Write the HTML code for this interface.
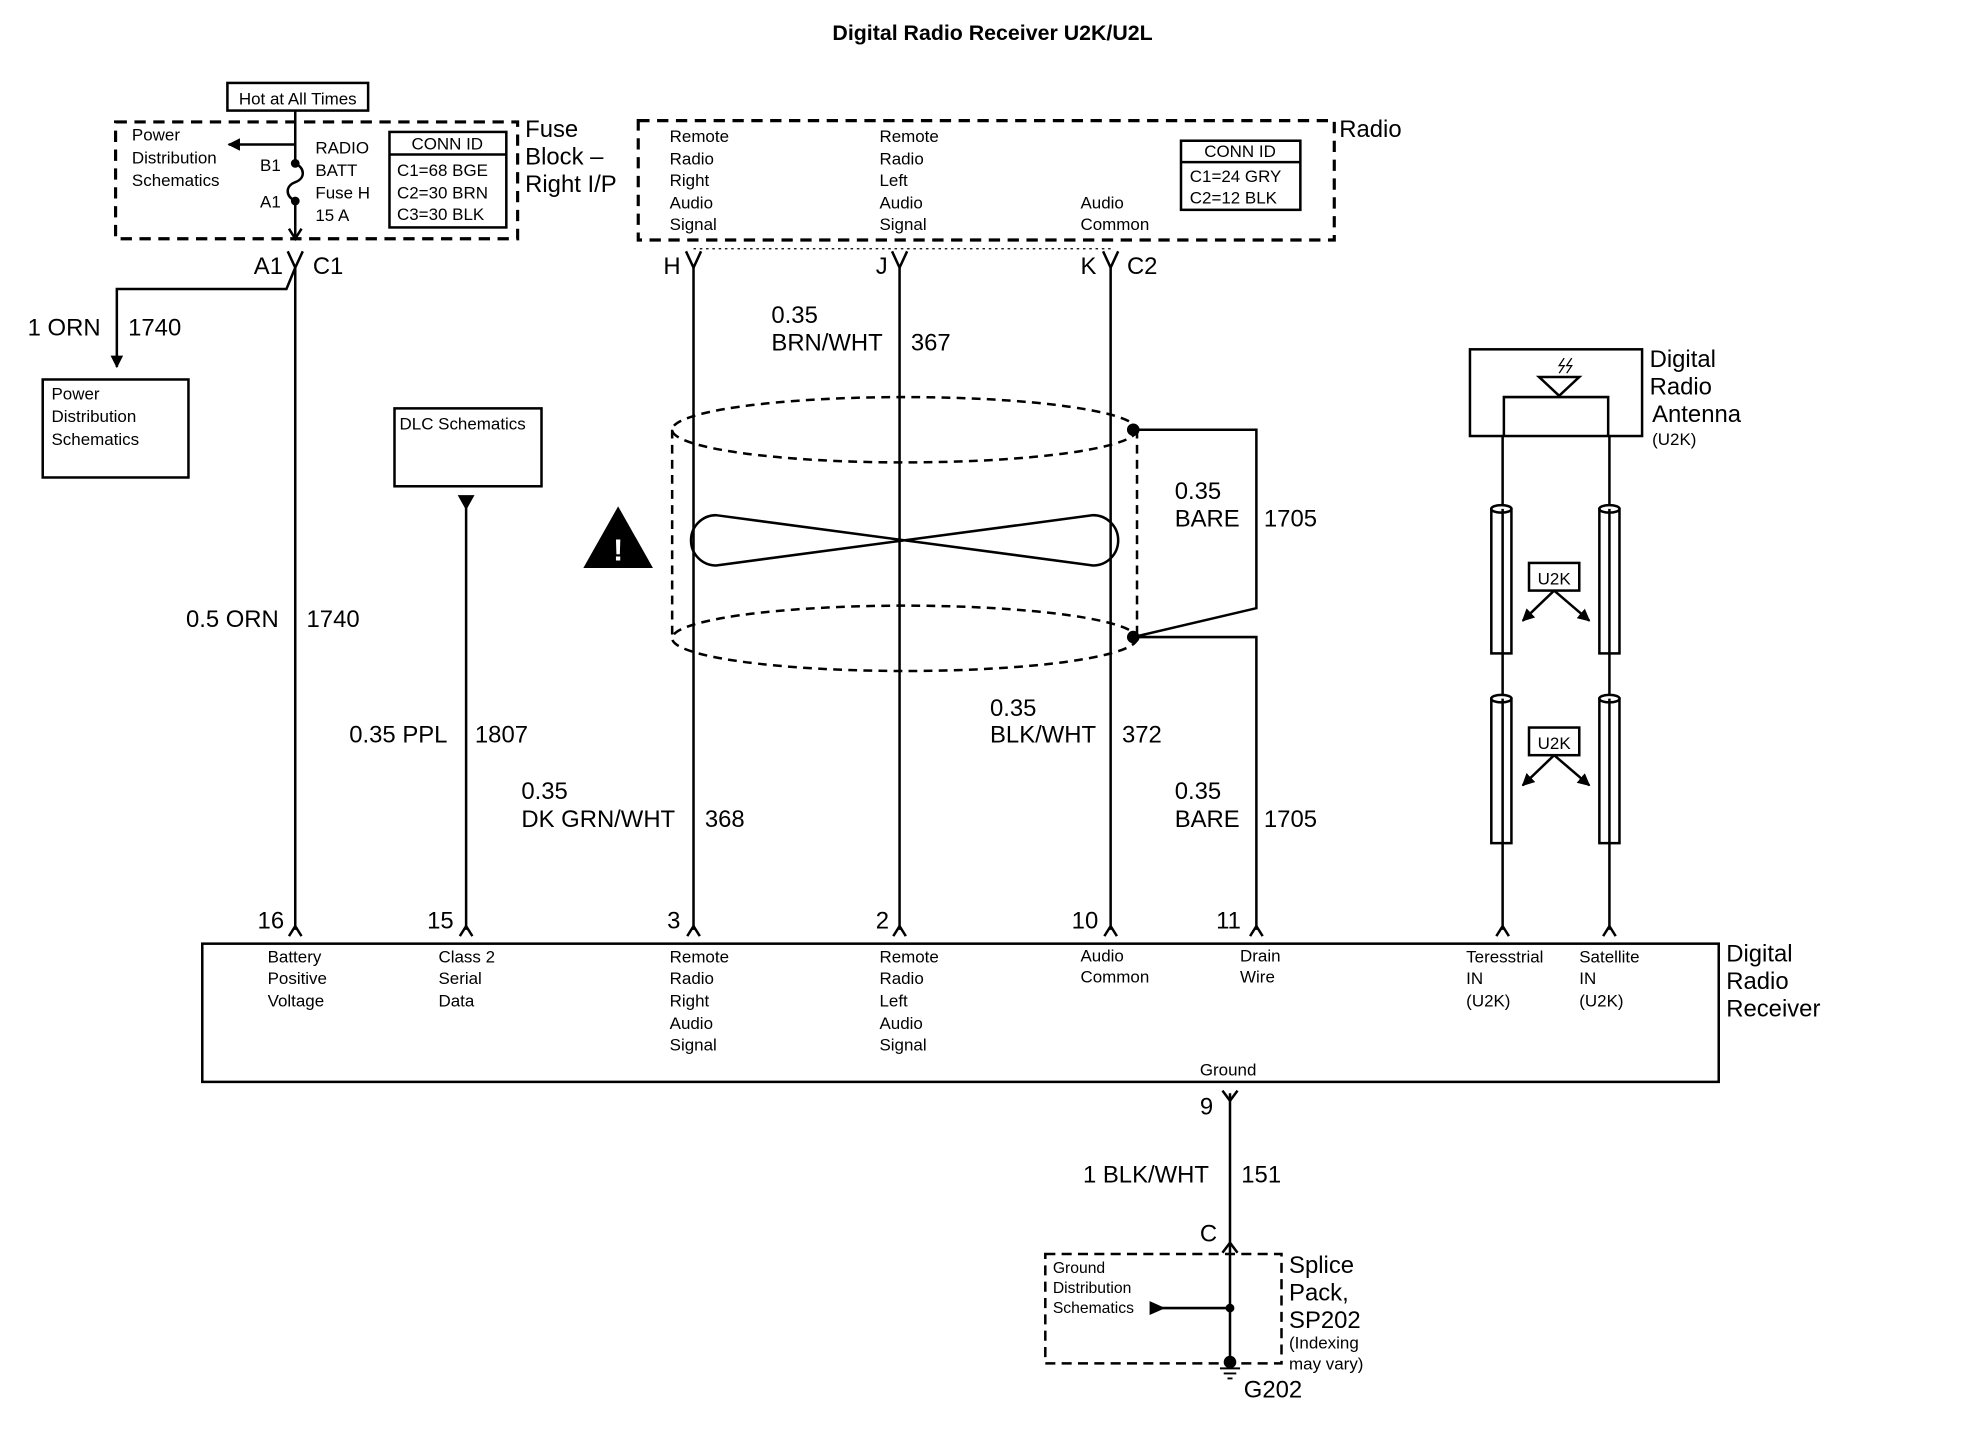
<!DOCTYPE html>
<html><head><meta charset="utf-8"><style>
html,body{margin:0;padding:0;background:#fff;}
svg{display:block;}
text{font-family:"Liberation Sans",Arial,sans-serif;fill:#000;}
.s{font-size:13.5px;}
.m{font-size:19px;}
.l{font-size:19px;}
</style></head><body>
<svg width="1970" height="1440" viewBox="0 0 1568 1146" preserveAspectRatio="none" xmlns="http://www.w3.org/2000/svg">
<defs>
<marker id="ar" markerWidth="10" markerHeight="10" refX="9" refY="5" orient="auto" markerUnits="userSpaceOnUse"><path d="M0,0 L10,5 L0,10 Z" fill="#000"/></marker>
</defs>
<g stroke="#000" fill="none" stroke-width="2">
<text x="790" y="32" text-anchor="middle" style="font-size:17px;font-weight:bold" stroke="none">Digital Radio Receiver  U2K/U2L</text>

<rect x="181" y="66" width="112" height="22"/>
<text x="237" y="83" text-anchor="middle" class="s" stroke="none">Hot at All Times</text>
<rect x="92" y="97" width="320" height="93" stroke-dasharray="9,6" stroke-width="2.5"/>
<text x="105" y="112" class="s" stroke="none">Power</text>
<text x="105" y="130" class="s" stroke="none">Distribution</text>
<text x="105" y="148" class="s" stroke="none">Schematics</text>
<line x1="235" y1="115" x2="182" y2="115" marker-end="url(#ar)"/>
<path d="M235,88 V130 M235,160 V188" />
<path d="M235,130 c8,4 8,12 0,15 c-8,3 -8,11 0,15" />
<circle cx="235" cy="130" r="2.5" fill="#000"/><circle cx="235" cy="160" r="2.5" fill="#000"/>
<path d="M230,182 L235,190 L240,182" />
<text x="207" y="136" class="s" stroke="none">B1</text>
<text x="207" y="165" class="s" stroke="none">A1</text>
<text x="251" y="122" class="s" stroke="none">RADIO</text>
<text x="251" y="140" class="s" stroke="none">BATT</text>
<text x="251" y="158" class="s" stroke="none">Fuse H</text>
<text x="251" y="176" class="s" stroke="none">15 A</text>
<rect x="310" y="105" width="93" height="76"/>
<line x1="310" y1="123" x2="403" y2="123"/>
<text x="356" y="119" text-anchor="middle" class="s" stroke="none">CONN ID</text>
<text x="316" y="140" class="s" stroke="none">C1=68 BGE</text>
<text x="316" y="158" class="s" stroke="none">C2=30 BRN</text>
<text x="316" y="175" class="s" stroke="none">C3=30 BLK</text>
<text x="418" y="109" class="l" stroke="none">Fuse</text>
<text x="418" y="131" class="l" stroke="none">Block –</text>
<text x="418" y="153" class="l" stroke="none">Right I/P</text>

<rect x="508" y="96" width="554" height="95" stroke-dasharray="9,6" stroke-width="2.5"/>
<text x="1066" y="109" class="l" stroke="none">Radio</text>
<g stroke="none">
<text x="533" y="113" class="s">Remote</text><text x="533" y="131" class="s">Radio</text><text x="533" y="148" class="s">Right</text><text x="533" y="166" class="s">Audio</text><text x="533" y="183" class="s">Signal</text>
<text x="700" y="113" class="s">Remote</text><text x="700" y="131" class="s">Radio</text><text x="700" y="148" class="s">Left</text><text x="700" y="166" class="s">Audio</text><text x="700" y="183" class="s">Signal</text>
<text x="860" y="166" class="s">Audio</text><text x="860" y="183" class="s">Common</text>
</g>
<rect x="940" y="112" width="95" height="55"/>
<line x1="940" y1="129" x2="1035" y2="129"/>
<text x="987" y="125" text-anchor="middle" class="s" stroke="none">CONN ID</text>
<text x="947" y="145" class="s" stroke="none">C1=24 GRY</text>
<text x="947" y="162" class="s" stroke="none">C2=12 BLK</text>
<path d="M552,198 H885" stroke-dasharray="2,3" stroke-width="1"/>

<g>
<path d="M229,200 L235,213 L241,200"/>
<path d="M546,200 L552,213 L558,200"/>
<path d="M710,200 L716,213 L722,200"/>
<path d="M878,200 L884,213 L890,200"/>
</g>
<text x="202" y="218" class="m" stroke="none">A1</text><text x="249" y="218" class="m" stroke="none">C1</text>
<text x="528" y="218" class="m" stroke="none">H</text>
<text x="697" y="218" class="m" stroke="none">J</text>
<text x="860" y="218" class="m" stroke="none">K</text><text x="897" y="218" class="m" stroke="none">C2</text>

<path d="M235,213 V740"/>
<path d="M235,213 L228,230 H93 V292" marker-end="url(#ar)"/>
<text x="22" y="267" class="m" stroke="none">1 ORN</text><text x="102" y="267" class="m" stroke="none">1740</text>
<rect x="34" y="302" width="116" height="78"/>
<text x="41" y="318" class="s" stroke="none">Power</text><text x="41" y="336" class="s" stroke="none">Distribution</text><text x="41" y="354" class="s" stroke="none">Schematics</text>
<text x="148" y="499" class="m" stroke="none">0.5 ORN</text><text x="244" y="499" class="m" stroke="none">1740</text>

<rect x="314" y="325" width="117" height="62"/>
<text x="318" y="342" class="s" stroke="none">DLC Schematics</text>
<path d="M366,395 L376,395 L371,404 Z" fill="#000"/>
<line x1="371" y1="400" x2="371" y2="740"/>
<text x="278" y="591" class="m" stroke="none">0.35 PPL</text><text x="378" y="591" class="m" stroke="none">1807</text>

<line x1="552" y1="213" x2="552" y2="740"/>
<line x1="716" y1="213" x2="716" y2="740"/>
<line x1="884" y1="213" x2="884" y2="740"/>
<text x="614" y="257" class="m" stroke="none">0.35</text>
<text x="614" y="279" class="m" stroke="none">BRN/WHT</text><text x="725" y="279" class="m" stroke="none">367</text>
<text x="415" y="636" class="m" stroke="none">0.35</text>
<text x="415" y="658" class="m" stroke="none">DK GRN/WHT</text><text x="561" y="658" class="m" stroke="none">368</text>
<text x="788" y="570" class="m" stroke="none">0.35</text>
<text x="788" y="591" class="m" stroke="none">BLK/WHT</text><text x="893" y="591" class="m" stroke="none">372</text>

<ellipse cx="720" cy="342" rx="185" ry="26" stroke-dasharray="7,5"/>
<ellipse cx="720" cy="508" rx="185" ry="26" stroke-dasharray="7,5"/>
<line x1="535" y1="342" x2="535" y2="508" stroke-dasharray="7,5"/>
<line x1="905" y1="342" x2="905" y2="508" stroke-dasharray="7,5"/>
<path d="M570,410 L870,450 A20,20 0 0 0 870,410 L570,450 A20,20 0 0 1 570,410 Z"/>
<path d="M466,451 L492,405 L518,451 Z" fill="#000"/>
<text x="492" y="446" text-anchor="middle" style="font-size:24px;font-weight:bold;fill:#fff" stroke="none">!</text>

<circle cx="902" cy="342" r="4" fill="#000"/>
<circle cx="902" cy="507" r="4" fill="#000"/>
<path d="M902,342 H1000 V484 L902,507 H1000 V740"/>
<text x="935" y="397" class="m" stroke="none">0.35</text>
<text x="935" y="419" class="m" stroke="none">BARE</text><text x="1006" y="419" class="m" stroke="none">1705</text>
<text x="935" y="636" class="m" stroke="none">0.35</text>
<text x="935" y="658" class="m" stroke="none">BARE</text><text x="1006" y="658" class="m" stroke="none">1705</text>

<rect x="1170" y="278" width="137" height="69"/>
<path d="M1197,347 V316 H1280 V347"/>
<path d="M1225,300 H1257 L1241,315 Z"/>
<path d="M1245,285 l-4,6 h4 l-4,6 M1251,285 l-4,6 h4 l-4,6" stroke-width="1"/>
<text x="1313" y="292" class="m" stroke="none">Digital</text>
<text x="1313" y="314" class="m" stroke="none">Radio</text>
<text x="1315" y="336" class="m" stroke="none">Antenna</text>
<text x="1315" y="354" class="s" stroke="none">(U2K)</text>
<line x1="1196" y1="347" x2="1196" y2="740"/>
<line x1="1281" y1="347" x2="1281" y2="740"/>
<g fill="#fff">
<rect x="1187" y="405" width="16" height="115"/><ellipse cx="1195" cy="405" rx="8" ry="3"/>
<rect x="1273" y="405" width="16" height="115"/><ellipse cx="1281" cy="405" rx="8" ry="3"/>
<rect x="1187" y="556" width="16" height="115"/><ellipse cx="1195" cy="556" rx="8" ry="3"/>
<rect x="1273" y="556" width="16" height="115"/><ellipse cx="1281" cy="556" rx="8" ry="3"/>
</g>
<line x1="1196" y1="405" x2="1196" y2="520"/><line x1="1281" y1="405" x2="1281" y2="520"/>
<line x1="1196" y1="556" x2="1196" y2="671"/><line x1="1281" y1="556" x2="1281" y2="671"/>
<rect x="1217" y="448" width="40" height="22"/>
<text x="1237" y="465" text-anchor="middle" class="s" stroke="none">U2K</text>
<line x1="1237" y1="470" x2="1212" y2="494" marker-end="url(#ar)"/>
<line x1="1237" y1="470" x2="1265" y2="494" marker-end="url(#ar)"/>
<rect x="1217" y="579" width="40" height="22"/>
<text x="1237" y="596" text-anchor="middle" class="s" stroke="none">U2K</text>
<line x1="1237" y1="601" x2="1212" y2="625" marker-end="url(#ar)"/>
<line x1="1237" y1="601" x2="1265" y2="625" marker-end="url(#ar)"/>

<g>
<path d="M230,745 L235,737 L240,745"/>
<path d="M366,745 L371,737 L376,745"/>
<path d="M547,745 L552,737 L557,745"/>
<path d="M711,745 L716,737 L721,745"/>
<path d="M879,745 L884,737 L889,745"/>
<path d="M995,745 L1000,737 L1005,745"/>
<path d="M1191,745 L1196,737 L1201,745"/>
<path d="M1276,745 L1281,737 L1286,745"/>
</g>
<text x="205" y="739" class="m" stroke="none">16</text>
<text x="340" y="739" class="m" stroke="none">15</text>
<text x="531" y="739" class="m" stroke="none">3</text>
<text x="697" y="739" class="m" stroke="none">2</text>
<text x="853" y="739" class="m" stroke="none">10</text>
<text x="968" y="739" class="m" stroke="none">11</text>

<rect x="161" y="751" width="1207" height="110"/>
<g stroke="none">
<text x="213" y="766" class="s">Battery</text><text x="213" y="783" class="s">Positive</text><text x="213" y="801" class="s">Voltage</text>
<text x="349" y="766" class="s">Class 2</text><text x="349" y="783" class="s">Serial</text><text x="349" y="801" class="s">Data</text>
<text x="533" y="766" class="s">Remote</text><text x="533" y="783" class="s">Radio</text><text x="533" y="801" class="s">Right</text><text x="533" y="819" class="s">Audio</text><text x="533" y="836" class="s">Signal</text>
<text x="700" y="766" class="s">Remote</text><text x="700" y="783" class="s">Radio</text><text x="700" y="801" class="s">Left</text><text x="700" y="819" class="s">Audio</text><text x="700" y="836" class="s">Signal</text>
<text x="860" y="765" class="s">Audio</text><text x="860" y="782" class="s">Common</text>
<text x="987" y="765" class="s">Drain</text><text x="987" y="782" class="s">Wire</text>
<text x="1167" y="766" class="s">Teresstrial</text><text x="1167" y="783" class="s">IN</text><text x="1167" y="801" class="s">(U2K)</text>
<text x="1257" y="766" class="s">Satellite</text><text x="1257" y="783" class="s">IN</text><text x="1257" y="801" class="s">(U2K)</text>
<text x="955" y="856" class="s">Ground</text>
<text x="1374" y="765" class="l">Digital</text><text x="1374" y="787" class="l">Radio</text><text x="1374" y="809" class="l">Receiver</text>
</g>

<path d="M973,868 L979,876 L985,868"/>
<line x1="979" y1="870" x2="979" y2="1085"/>
<text x="955" y="887" class="m" stroke="none">9</text>
<text x="862" y="941" class="m" stroke="none">1 BLK/WHT</text><text x="988" y="941" class="m" stroke="none">151</text>
<text x="955" y="988" class="m" stroke="none">C</text>
<path d="M973,997 L979,989 L985,997"/>
<rect x="832" y="998" width="188" height="87" stroke-dasharray="8,5"/>
<text x="838" y="1013" class="s" stroke="none" style="font-size:12.5px">Ground</text>
<text x="838" y="1029" class="s" stroke="none" style="font-size:12.5px">Distribution</text>
<text x="838" y="1045" class="s" stroke="none" style="font-size:12.5px">Schematics</text>
<path d="M916,1037 L925,1041 L916,1045 Z" fill="#000"/>
<line x1="920" y1="1041" x2="979" y2="1041"/>
<circle cx="979" cy="1041" r="2.5" fill="#000"/>
<circle cx="979" cy="1084" r="4" fill="#000"/>
<path d="M971,1089 H987 M974,1093 H984 M977,1097 H981" stroke-width="1.5"/>
<text x="1026" y="1013" class="l" stroke="none">Splice</text>
<text x="1026" y="1035" class="l" stroke="none">Pack,</text>
<text x="1026" y="1057" class="l" stroke="none">SP202</text>
<text x="1026" y="1073" class="s" stroke="none">(Indexing</text>
<text x="1026" y="1090" class="s" stroke="none">may vary)</text>
<text x="990" y="1112" class="m" stroke="none">G202</text>
</g>
</svg>
</body></html>
